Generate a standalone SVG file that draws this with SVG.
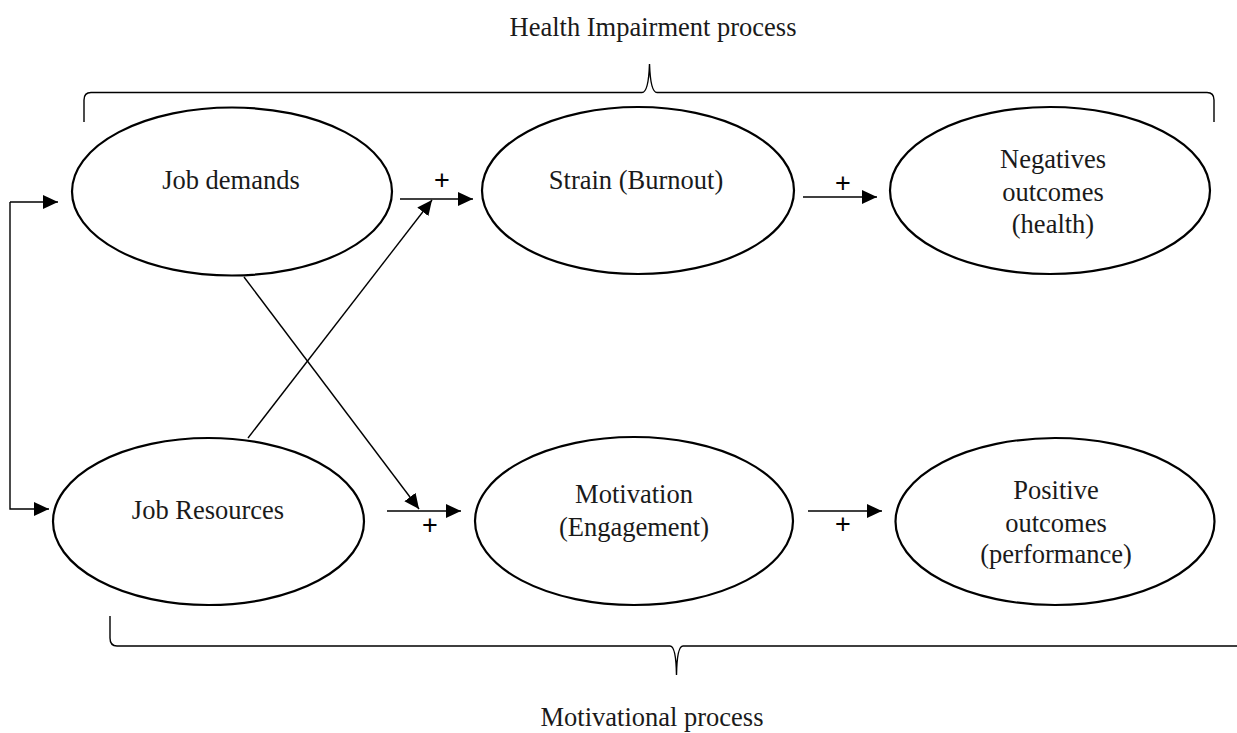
<svg xmlns="http://www.w3.org/2000/svg" width="1237" height="733" viewBox="0 0 1237 733">
<style>
.node ellipse{fill:#fff;stroke:#000;stroke-width:2.2}
.t{font-family:"Liberation Serif","Times New Roman",serif;font-size:26.5px;fill:#1a1a1a;text-anchor:middle}
.plus{font-family:"Liberation Sans",Arial,sans-serif;font-size:27px;fill:#000;text-anchor:middle}
.c{fill:none;stroke:#000;stroke-width:1.4}
.brace{fill:none;stroke:#000;stroke-width:1.4}
</style>
<defs>
<marker id="ah" markerUnits="userSpaceOnUse" markerWidth="16" markerHeight="15" refX="15" refY="7" orient="auto">
<path d="M0,0 L15,7 L0,14 z" fill="#000"/>
</marker>
</defs>
<rect width="1237" height="733" fill="#fff"/>
<g id="braces">
<path class="brace" d="M84,122 L84,100 Q84,92.5 91,92.5 L642,92.5 Q648.5,92.5 649.5,64 Q650.5,92.5 657,92.5 L1207,92.5 Q1214,92.5 1214,100 L1214,122"/>
<path class="brace" d="M110,616 L110,638 Q110,646 117,646 L670,646 Q676,646 676.5,675 Q677,646 683,646 L1237,646"/>
<text class="t" x="653" y="36">Health Impairment process</text>
<text class="t" x="652" y="726">Motivational process</text>
</g>
<g id="connectors">
<path class="c" d="M10,202 L10,509 L49,509" marker-end="url(#ah)"/>
<path class="c" d="M10,202 L58,202" marker-end="url(#ah)"/>
<path class="c" d="M400,199 L473,199" marker-end="url(#ah)"/>
<path class="c" d="M248,438 L432,200" marker-end="url(#ah)"/>
<path class="c" d="M244,277 L419,509" marker-end="url(#ah)"/>
<path class="c" d="M387,511 L461,511" marker-end="url(#ah)"/>
<path class="c" d="M803,197 L877,197" marker-end="url(#ah)"/>
<path class="c" d="M808,511 L882,511" marker-end="url(#ah)"/>
<text class="plus" x="442" y="188.5">+</text>
<text class="plus" x="843" y="191.5">+</text>
<text class="plus" x="430" y="533.5">+</text>
<text class="plus" x="843" y="532.5">+</text>
</g>
<g id="job-demands" class="node">
<ellipse cx="232" cy="191.5" rx="160" ry="84"/>
<text class="t" x="231" y="189">Job demands</text>
</g>
<g id="strain" class="node">
<ellipse cx="638" cy="190.5" rx="156" ry="83.5"/>
<text class="t" x="636" y="189">Strain (Burnout)</text>
</g>
<g id="negative-outcomes" class="node">
<ellipse cx="1050" cy="190.5" rx="160" ry="83.5"/>
<text class="t" x="1053" y="168">Negatives</text>
<text class="t" x="1053" y="201">outcomes</text>
<text class="t" x="1053" y="233">(health)</text>
</g>
<g id="job-resources" class="node">
<ellipse cx="208.5" cy="521.5" rx="155.5" ry="83.5"/>
<text class="t" x="208" y="519">Job Resources</text>
</g>
<g id="motivation" class="node">
<ellipse cx="634" cy="521" rx="159" ry="84"/>
<text class="t" x="634" y="503">Motivation</text>
<text class="t" x="634" y="536">(Engagement)</text>
</g>
<g id="positive-outcomes" class="node">
<ellipse cx="1055" cy="521.5" rx="159.5" ry="83.5"/>
<text class="t" x="1056" y="499">Positive</text>
<text class="t" x="1056" y="532">outcomes</text>
<text class="t" x="1056" y="563">(performance)</text>
</g>
</svg>
